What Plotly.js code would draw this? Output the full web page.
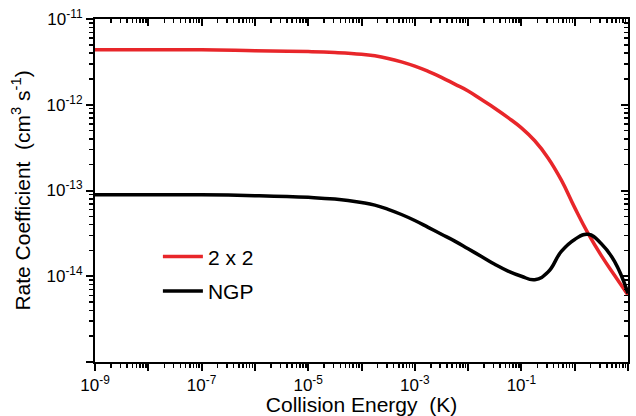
<!DOCTYPE html>
<html>
<head>
<meta charset="utf-8">
<script src="https://cdn.plot.ly/plotly-3.0.1.min.js"></script>
<style>html,body{margin:0;padding:0;background:#fff}#chart{width:636px;height:416px}</style>
</head>
<body>
<div id="chart"></div>
<script>
// Collision energy (K) — shared sampling of both curves
const energy = [1e-9, 1e-8, 1e-7, 1e-6, 1e-5, 3.16e-5, 1e-4, 1.78e-4, 3.16e-4, 5.62e-4, 1e-3, 1.78e-3, 3.16e-3, 5.62e-3,
                1e-2, 1.78e-2, 3.16e-2, 5.62e-2, 0.1, 0.178, 0.316, 0.562, 1, 1.78, 3.16, 5.62, 10];
// Rate coefficient (cm^3 s^-1), "2 x 2"
const rate2x2 = [4.37e-12, 4.37e-12, 4.37e-12, 4.27e-12, 4.17e-12, 4.07e-12, 3.89e-12, 3.72e-12, 3.47e-12, 3.16e-12,
                 2.82e-12, 2.45e-12, 2.09e-12, 1.74e-12, 1.45e-12, 1.15e-12, 9.12e-13, 7.08e-13, 5.37e-13, 3.80e-13,
                 2.40e-13, 1.32e-13, 6.31e-14, 3.16e-14, 1.74e-14, 1.02e-14, 6.03e-15];
// Rate coefficient (cm^3 s^-1), "NGP"
const rateNGP = [8.91e-14, 8.91e-14, 8.91e-14, 8.71e-14, 8.32e-14, 7.94e-14, 7.24e-14, 6.76e-14, 6.03e-14, 5.25e-14,
                 4.47e-14, 3.72e-14, 3.09e-14, 2.57e-14, 2.09e-14, 1.70e-14, 1.38e-14, 1.15e-14, 1.00e-14, 9.12e-15,
                 1.12e-14, 1.95e-14, 2.69e-14, 3.09e-14, 2.40e-14, 1.48e-14, 6.31e-15];

const seriesNames = ["2 x 2", "NGP"];

const xTickVals = [1e-9, 1e-8, 1e-7, 1e-6, 1e-5, 1e-4, 1e-3, 1e-2, 1e-1, 1, 10];
const xTickText = ["10<sup>-9</sup>", "", "10<sup>-7</sup>", "", "10<sup>-5</sup>", "", "10<sup>-3</sup>", "", "10<sup>-1</sup>", "", "10<sup>1</sup>"];
const yTickVals = [1e-15, 1e-14, 1e-13, 1e-12, 1e-11];
const yTickText = ["", "10<sup>-14</sup>", "10<sup>-13</sup>", "10<sup>-12</sup>", "10<sup>-11</sup>"];

function minorVals(d0, d1) {
  const out = [];
  for (let d = d0; d < d1; d++) for (let m = 2; m <= 9; m++) out.push(m * Math.pow(10, d));
  return out;
}
const xMinor = minorVals(-9, 1);
const yMinor = minorVals(-15, -11);

const FONT = "Liberation Sans, Arial, sans-serif";

const traces = [
  {x: energy, y: rate2x2, name: seriesNames[0], mode: "lines", legendgroup: "a",
   line: {color: "#e8262a", width: 3.5, shape: "spline", smoothing: 1.3, simplify: false}},
  {x: energy, y: rateNGP, name: seriesNames[1], mode: "lines", legendgroup: "b",
   line: {color: "#000000", width: 3.5, shape: "spline", smoothing: 1.3, simplify: false}},
  // invisible carrier so the mirrored (top/right) axes are drawn
  {x: energy, y: rateNGP, xaxis: "x2", yaxis: "y2", mode: "lines", showlegend: false,
   hoverinfo: "skip", opacity: 0, line: {width: 0}}
];

const baseX = {
  type: "log", range: [-9, 1], showgrid: false, zeroline: false,
  showline: true, linecolor: "#000", linewidth: 2,
  tickmode: "array", tickvals: xTickVals, ticklen: 7, tickwidth: 2, tickcolor: "#000"
};
const baseY = {
  type: "log", range: [-15, -11], showgrid: false, zeroline: false,
  showline: true, linecolor: "#000", linewidth: 2,
  tickmode: "array", tickvals: yTickVals, ticklen: 7, tickwidth: 2, tickcolor: "#000"
};

const layout = {
  width: 636, height: 416,
  margin: {l: 95, r: 8, t: 19, b: 54},
  paper_bgcolor: "#fff", plot_bgcolor: "#fff",
  font: {family: FONT, color: "#000", size: 17},
  showlegend: true,
  legend: {x: 0.118, y: 0.366, xanchor: "left", yanchor: "top", bgcolor: "rgba(0,0,0,0)",
           font: {family: FONT, size: 21, color: "#000"}, tracegroupgap: 4, itemwidth: 40},
  xaxis: Object.assign({}, baseX, {
    ticks: "outside", ticktext: xTickText, tickfont: {family: FONT, size: 17},
    minor: {tickmode: "array", tickvals: xMinor, ticks: "outside", ticklen: 4, tickwidth: 1.5, tickcolor: "#000"},
    title: {text: "Collision Energy  (K)", font: {family: FONT, size: 21}, standoff: 4}
  }),
  yaxis: Object.assign({}, baseY, {
    ticks: "outside", ticktext: yTickText, tickfont: {family: FONT, size: 17},
    minor: {tickmode: "array", tickvals: yMinor, ticks: "outside", ticklen: 4, tickwidth: 1.5, tickcolor: "#000"},
    title: {text: "Rate Coefficient  (cm<sup>3</sup> s<sup>-1</sup>)", font: {family: FONT, size: 21}, standoff: 10}
  }),
  xaxis2: Object.assign({}, baseX, {
    overlaying: "x", side: "top", anchor: "y2", ticks: "inside", showticklabels: false,
    minor: {tickmode: "array", tickvals: xMinor, ticks: "inside", ticklen: 4, tickwidth: 1.5, tickcolor: "#000"}
  }),
  yaxis2: Object.assign({}, baseY, {
    overlaying: "y", side: "right", anchor: "x2", ticks: "inside", showticklabels: false,
    minor: {tickmode: "array", tickvals: yMinor, ticks: "inside", ticklen: 4, tickwidth: 1.5, tickcolor: "#000"}
  })
};

Plotly.newPlot("chart", traces, layout, {displayModeBar: false, staticPlot: true});
</script>
</body>
</html>
